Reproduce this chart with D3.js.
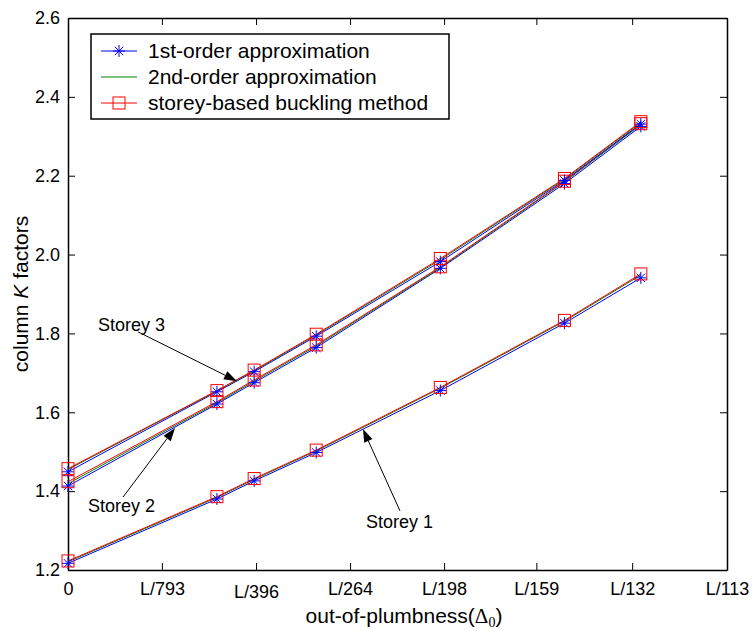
<!DOCTYPE html>
<html>
<head>
<meta charset="utf-8">
<script src="https://cdn.jsdelivr.net/npm/d3@7"></script>
<style>
  body { margin: 0; background: #fff; }
  svg { display: block; font-family: "Liberation Sans", Arial, sans-serif; }
</style>
</head>
<body>
<svg></svg>
<script>
// out-of-plumbness of the data points, as a fraction of L
const xFractions = [0, 1 / 500, 1 / 400, 1 / 300, 1 / 200, 1 / 150, 1 / 130];
// tick labels: L/n (0 means no out-of-plumbness)
const tickDenominators = [0, 793, 396, 264, 198, 159, 132, 113];
const yTicks = [1.2, 1.4, 1.6, 1.8, 2.0, 2.2, 2.4, 2.6];

// column K factors
const storey1First = [1.217, 1.380, 1.426, 1.498, 1.655, 1.826, 1.941];
const storey1Second = [1.221, 1.384, 1.430, 1.502, 1.661, 1.831, 1.948];
const storey1Storey = [1.223, 1.386, 1.432, 1.504, 1.663, 1.833, 1.951];

const storey2First = [1.413, 1.621, 1.675, 1.764, 1.965, 2.180, 2.325];
const storey2Second = [1.419, 1.624, 1.679, 1.768, 1.967, 2.184, 2.329];
const storey2Storey = [1.424, 1.627, 1.682, 1.771, 1.969, 2.186, 2.332];

const storey3First = [1.449, 1.652, 1.703, 1.793, 1.982, 2.188, 2.331];
const storey3Second = [1.455, 1.654, 1.705, 1.796, 1.987, 2.191, 2.335];
const storey3Storey = [1.457, 1.655, 1.707, 1.798, 1.990, 2.193, 2.337];

const legendLabels = ["1st-order approximation", "2nd-order approximation", "storey-based buckling method"];

let width = 752,
    height = 631;
const plot = { left: 68, right: 727, top: 18, bottom: 570 };

let svg = d3.select("svg").attr("width", width).attr("height", height);

const x = d3.scaleLinear().domain([0, 1 / 113]).range([plot.left, plot.right]);
const y = d3.scaleLinear().domain([1.2, 2.6]).range([plot.bottom, plot.top]);

const tickValues = tickDenominators.map((d) => (d ? 1 / d : 0));
const tickLabel = (v, i) => (tickDenominators[i] ? "L/" + tickDenominators[i] : "0");

// axes (ticks point inward, box all round)
const xAxis = svg.append("g")
    .attr("transform", `translate(0, ${plot.bottom})`)
    .call(d3.axisBottom(x).tickValues(tickValues).tickFormat(tickLabel)
        .tickSizeInner(-7).tickSizeOuter(0).tickPadding(12));
xAxis.selectAll("text")
    .attr("font-size", "18px")
    .attr("font-family", "Liberation Sans, Arial, sans-serif")
    .attr("fill", "#000")
    .attr("transform", (d, i) => (tickDenominators[i] === 396 ? "translate(0,3)" : null));

svg.append("g")
    .attr("transform", `translate(0, ${plot.top})`)
    .call(d3.axisTop(x).tickValues(tickValues).tickFormat("")
        .tickSizeInner(-7).tickSizeOuter(0));

const yAxis = svg.append("g")
    .attr("transform", `translate(${plot.left}, 0)`)
    .call(d3.axisLeft(y).tickValues(yTicks).tickFormat(d3.format(".1f"))
        .tickSizeInner(-7).tickSizeOuter(0).tickPadding(8));
yAxis.selectAll("text")
    .attr("font-size", "18px")
    .attr("font-family", "Liberation Sans, Arial, sans-serif")
    .attr("fill", "#000");

svg.append("g")
    .attr("transform", `translate(${plot.right}, 0)`)
    .call(d3.axisRight(y).tickValues(yTicks).tickFormat("")
        .tickSizeInner(-7).tickSizeOuter(0));

svg.selectAll(".domain").attr("stroke", "#000").attr("stroke-width", 1.5);
svg.selectAll(".tick line").attr("stroke", "#000");

// axis titles
const xTitle = svg.append("text")
    .attr("x", 404)
    .attr("y", 623)
    .attr("text-anchor", "middle")
    .attr("font-size", "21px")
    .text("out-of-plumbness(");
xTitle.append("tspan").attr("font-family", "Liberation Serif, Times New Roman, serif").text("\u0394");
xTitle.append("tspan").attr("font-family", "Liberation Serif, Times New Roman, serif")
    .attr("font-size", "14px").attr("dy", 4).text("0");
xTitle.append("tspan").attr("dy", -4).text(")");

const yTitle = svg.append("text")
    .attr("transform", `translate(28, ${(plot.top + plot.bottom) / 2}) rotate(-90)`)
    .attr("text-anchor", "middle")
    .attr("font-size", "21px")
    .text("column ");
yTitle.append("tspan").attr("font-style", "italic").text("K");
yTitle.append("tspan").text(" factors");

// series
const line = d3.line()
    .x((d, i) => x(xFractions[i]))
    .y((d) => y(d));

const storeys = [
    [storey1First, storey1Second, storey1Storey],
    [storey2First, storey2Second, storey2Storey],
    [storey3First, storey3Second, storey3Storey],
];
const colors = ["#0000ff", "#008000", "#ff0000"];

const starPath = (r) =>
    `M${-r},0H${r}M0,${-r}V${r}M${-r * 0.7},${-r * 0.7}L${r * 0.7},${r * 0.7}M${-r * 0.7},${r * 0.7}L${r * 0.7},${-r * 0.7}`;

const series = svg.append("g").attr("id", "series");

// lines first, in legend order so the red one is on top
storeys.forEach((s) => {
    s.forEach((values, k) => {
        series.append("path")
            .attr("d", line(values))
            .attr("fill", "none")
            .attr("stroke", colors[k])
            .attr("stroke-width", 1);
    });
});

storeys.forEach((s) => {
    series.append("g")
        .selectAll("path")
        .data(s[0])
        .enter()
        .append("path")
        .attr("transform", (d, i) => `translate(${x(xFractions[i])}, ${y(d)})`)
        .attr("d", starPath(6))
        .attr("stroke", colors[0])
        .attr("stroke-width", 1)
        .attr("fill", "none");
    series.append("g")
        .selectAll("rect")
        .data(s[2])
        .enter()
        .append("rect")
        .attr("x", (d, i) => x(xFractions[i]) - 6)
        .attr("y", (d) => y(d) - 6)
        .attr("width", 12)
        .attr("height", 12)
        .attr("stroke", colors[2])
        .attr("stroke-width", 1)
        .attr("fill", "none");
});

// storey annotations, in data units: label position, arrow start and arrow tip
const annotations = [
    { text: "Storey 3", tx: 0.000403, ty: 1.806, x0: 0.00094, y0: 1.804, x1: 0.002269, y1: 1.679 },
    { text: "Storey 2", tx: 0.000269, ty: 1.347, x0: 0.000739, y0: 1.385, x1: 0.001437, y1: 1.560 },
    { text: "Storey 1", tx: 0.004002, ty: 1.3065, x0: 0.004458, y0: 1.350, x1: 0.003961, y1: 1.5576 },
];

const notes = svg.append("g").attr("id", "notes");
annotations.forEach((a) => {
    notes.append("text")
        .attr("x", x(a.tx))
        .attr("y", y(a.ty))
        .attr("font-size", "18px")
        .text(a.text);
    const sx = x(a.x0), sy = y(a.y0), ex = x(a.x1), ey = y(a.y1);
    const len = Math.hypot(ex - sx, ey - sy);
    const ux = (ex - sx) / len, uy = (ey - sy) / len;
    const headLen = 13, headW = 4.5;
    const bx = ex - ux * headLen, by = ey - uy * headLen;
    notes.append("line")
        .attr("x1", sx).attr("y1", sy)
        .attr("x2", bx).attr("y2", by)
        .attr("stroke", "#000")
        .attr("stroke-width", 1);
    notes.append("path")
        .attr("d", `M${ex},${ey}L${bx - uy * headW},${by + ux * headW}L${bx + uy * headW},${by - ux * headW}Z`)
        .attr("fill", "#000");
});

// legend
const legend = svg.append("g").attr("transform", "translate(91, 34)");
legend.append("rect")
    .attr("width", 358)
    .attr("height", 85)
    .attr("fill", "#fff")
    .attr("stroke", "#000")
    .attr("stroke-width", 1.5);

legendLabels.forEach((label, i) => {
    const ly = 17 + i * 26;
    legend.append("line")
        .attr("x1", 10).attr("x2", 46)
        .attr("y1", ly).attr("y2", ly)
        .attr("stroke", colors[i])
        .attr("stroke-width", 1);
    if (i === 0) {
        legend.append("path")
            .attr("transform", `translate(28, ${ly})`)
            .attr("d", starPath(6))
            .attr("stroke", colors[0])
            .attr("fill", "none");
    }
    if (i === 2) {
        legend.append("rect")
            .attr("x", 22).attr("y", ly - 6)
            .attr("width", 12).attr("height", 12)
            .attr("stroke", colors[2])
            .attr("fill", "none");
    }
    legend.append("text")
        .attr("x", 57)
        .attr("y", ly)
        .attr("dy", "0.35em")
        .attr("font-size", "21px")
        .text(label);
});
</script>
</body>
</html>
